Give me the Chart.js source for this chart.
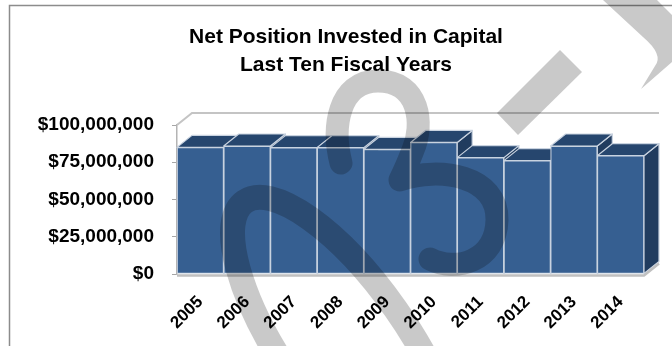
<!DOCTYPE html>
<html>
<head>
<meta charset="utf-8">
<script src="https://cdn.jsdelivr.net/npm/chart.js@4.4.1/dist/chart.umd.min.js"></script>
<style>
  html, body { margin: 0; padding: 0; background: #fff; }
  canvas { display: block; }
</style>
</head>
<body>
<canvas id="capitalChart" width="672" height="346"></canvas>
<script>
const years = ["2005", "2006", "2007", "2008", "2009", "2010", "2011", "2012", "2013", "2014"];
const netPosition = [85000000, 85900000, 84800000, 84800000, 83700000, 88300000, 78100000, 76100000, 85900000, 79400000];
const yTicks = [0, 25000000, 50000000, 75000000, 100000000];
const titleLines = ["Net Position Invested in Capital", "Last Ten Fiscal Years"];

const fontFamily = "'Liberation Sans', Arial, sans-serif";

// 3-D look of the columns
const DX = 15, DY = -12;
const FRONT = "#365f91", TOP = "#26466e", SIDE = "#213c5f", EDGE = "#c9d3e0";

function face(ctx, pts, fill) {
  ctx.beginPath();
  ctx.moveTo(pts[0][0], pts[0][1]);
  for (let i = 1; i < pts.length; i++) ctx.lineTo(pts[i][0], pts[i][1]);
  ctx.closePath();
  ctx.fillStyle = fill;
  ctx.fill();
  ctx.stroke();
}

const frame = {
  id: "frame",
  beforeDraw(chart) {
    const ctx = chart.ctx;
    ctx.save();
    ctx.fillStyle = "#fff";
    ctx.fillRect(0, 0, chart.width, chart.height);
    ctx.strokeStyle = "#8c8c8c";
    ctx.lineWidth = 1.5;
    ctx.strokeRect(9.5, 5.5, 700, 400);
    ctx.restore();
  }
};

// two-line heading, centred over the whole frame
const heading = {
  id: "heading",
  afterDraw(chart) {
    const ctx = chart.ctx;
    ctx.save();
    ctx.fillStyle = "#000";
    ctx.font = "bold 21px " + fontFamily;
    ctx.textAlign = "center";
    ctx.textBaseline = "middle";
    titleLines.forEach((line, i) => ctx.fillText(line, 346, 37 + i * 28));
    ctx.restore();
  }
};

const depth = {
  id: "depth",
  beforeDatasetsDraw(chart) {
    const { ctx, chartArea: a } = chart;
    ctx.save();
    // walls
    ctx.strokeStyle = "#c4c4c4";
    ctx.lineWidth = 2;
    ctx.beginPath();
    ctx.moveTo(a.left, a.top);
    ctx.lineTo(a.left + DX, a.top + DY);
    ctx.lineTo(a.right + DX, a.top + DY);
    ctx.stroke();

    // sides and tops, far to near
    ctx.strokeStyle = EDGE;
    ctx.lineWidth = 1.2;
    ctx.lineJoin = "round";
    chart.getDatasetMeta(0).data.forEach(bar => {
      const { x, y, base, width } = bar.getProps(["x", "y", "base", "width"], true);
      const l = x - width / 2, r = x + width / 2;
      face(ctx, [[r, y], [r + DX, y + DY], [r + DX, base + DY], [r, base]], SIDE);
      face(ctx, [[l, y], [r, y], [r + DX, y + DY], [l + DX, y + DY]], TOP);
    });
    ctx.restore();
  },
  afterDatasetsDraw(chart) {
    const { ctx, chartArea: a } = chart;
    ctx.save();
    ctx.strokeStyle = "#c0c0c0";
    ctx.lineWidth = 2.5;
    ctx.beginPath();
    ctx.moveTo(a.left, a.bottom + 1.5);
    ctx.lineTo(a.right, a.bottom + 1.5);
    ctx.lineTo(a.right + DX, a.bottom + 1.5 + DY);
    ctx.stroke();
    ctx.restore();
  }
};

// grey logo stamped across the page
const stamp = {
  id: "stamp",
  afterDraw(chart) {
    const ctx = chart.ctx;
    ctx.save();
    ctx.globalCompositeOperation = "multiply";
    ctx.strokeStyle = "#c9c9c9";
    ctx.fillStyle = "#c9c9c9";
    ctx.lineCap = "round";
    ctx.lineJoin = "round";

    // tilted loop
    ctx.lineWidth = 25;
    ctx.beginPath();
    ctx.ellipse(345, 345, 175, 62, 55 * Math.PI / 180, 0, Math.PI * 2);
    ctx.stroke();

    // the "3"
    ctx.lineWidth = 23;
    ctx.beginPath();
    ctx.moveTo(341, 163);
    ctx.bezierCurveTo(332, 128, 338, 81, 378, 81);
    ctx.bezierCurveTo(420, 81, 424, 125, 413, 150);
    ctx.bezierCurveTo(408, 163, 403, 174, 400, 180);
    ctx.bezierCurveTo(440, 166, 498, 176, 497, 220);
    ctx.bezierCurveTo(496, 262, 455, 272, 430, 259);
    ctx.stroke();

    // dash
    ctx.beginPath();
    ctx.moveTo(560, 50);
    ctx.lineTo(582, 72);
    ctx.lineTo(518, 135);
    ctx.lineTo(497, 113);
    ctx.closePath();
    ctx.fill();

    // chevron
    ctx.beginPath();
    ctx.moveTo(603, 0);
    ctx.lineTo(643, 37);
    ctx.quadraticCurveTo(664, 55, 655, 66);
    ctx.lineTo(641, 89);
    ctx.lineTo(672, 62);
    ctx.lineTo(672, 15);
    ctx.lineTo(657, 0);
    ctx.closePath();
    ctx.fill();
    ctx.restore();
  }
};

new Chart(document.getElementById("capitalChart"), {
  type: "bar",
  data: {
    labels: years,
    datasets: [{
      data: netPosition,
      backgroundColor: FRONT,
      borderColor: EDGE,
      borderWidth: 1.2,
      borderSkipped: false,
      categoryPercentage: 1,
      barPercentage: 1
    }]
  },
  options: {
    responsive: false,
    animation: false,
    devicePixelRatio: 1,
    layout: { padding: { left: 20, right: 28, top: 125, bottom: 0 } },
    plugins: {
      legend: { display: false },
      tooltip: { enabled: false },
      title: { display: false }
    },
    scales: {
      x: {
        grid: { display: false, drawTicks: false },
        border: { display: false },
        ticks: {
          color: "#000",
          font: { family: fontFamily, size: 17, weight: "bold" },
          minRotation: 45, maxRotation: 45, padding: 18
        },
        afterFit(scale) { scale.height = 72; }
      },
      y: {
        min: 0,
        max: 100000000,
        afterBuildTicks(scale) { scale.ticks = yTicks.map(v => ({ value: v })); },
        grid: { drawOnChartArea: false, tickLength: 5, color: "#a6a6a6" },
        border: { color: "#b4b4b4", width: 1.5 },
        ticks: {
          color: "#000",
          font: { family: fontFamily, size: 19, weight: "bold" },
          padding: 18,
          callback: v => "$" + Number(v).toLocaleString("en-US")
        },
        afterFit(scale) { scale.width = 157; }
      }
    }
  },
  plugins: [frame, depth, heading, stamp]
});
</script>
</body>
</html>
